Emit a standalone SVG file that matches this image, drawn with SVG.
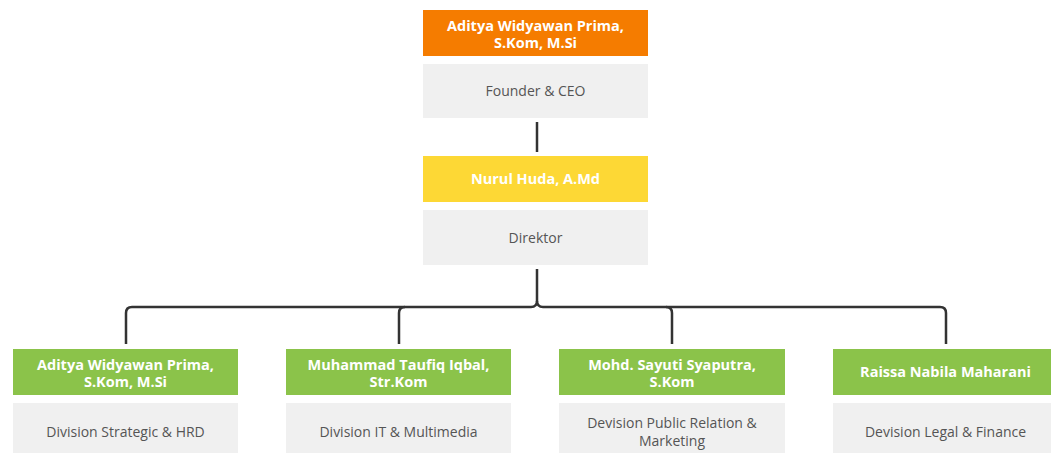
<svg xmlns="http://www.w3.org/2000/svg" width="1051" height="453" viewBox="0 0 1051 453">
<style>
.h{font-family:"Open Sans","Noto Sans","Liberation Sans",sans-serif;font-weight:700;font-size:14.5px;fill:#fff;text-anchor:middle}
.t{font-family:"Open Sans","Noto Sans","Liberation Sans",sans-serif;font-size:14px;fill:#555;text-anchor:middle}
.g{fill:#f0f0f0}
.c{fill:none;stroke:#333;stroke-width:2.5}
</style>
<rect width="1051" height="453" fill="#fff"/>
<g id="connectors">
<path class="c" d="M537,122 V152"/>
<path class="c" d="M537,269 V301 Q537,307 531,307 H132 Q126,307 126,313 V344"/>
<path class="c" d="M537,301 Q537,307 543,307 H940 Q946,307 946,313 V344"/>
<path class="c" d="M399,344 V313 Q399,307 405,307"/>
<path class="c" d="M672,344 V313 Q672,307 666,307"/>
</g>
<g id="ceo">
<rect x="423" y="10" width="225" height="46" fill="#f57c00"/>
<text class="h" x="535.5" y="31">Aditya Widyawan Prima,</text>
<text class="h" x="535.5" y="48">S.Kom, M.Si</text>
<rect class="g" x="423" y="64" width="225" height="54"/>
<text class="t" x="535.5" y="96">Founder &amp; CEO</text>
</g>
<g id="direktor">
<rect x="423" y="156" width="225" height="46" fill="#fdd835"/>
<text class="h" x="535.5" y="184">Nurul Huda, A.Md</text>
<rect class="g" x="423" y="210" width="225" height="55"/>
<text class="t" x="535.5" y="243">Direktor</text>
</g>
<g id="div1">
<rect x="13" y="349" width="225" height="46" fill="#8bc34a"/>
<text class="h" x="125.5" y="370">Aditya Widyawan Prima,</text>
<text class="h" x="125.5" y="387">S.Kom, M.Si</text>
<rect class="g" x="13" y="403" width="225" height="50"/>
<text class="t" x="125.5" y="437">Division Strategic &amp; HRD</text>
</g>
<g id="div2">
<rect x="286" y="349" width="225" height="46" fill="#8bc34a"/>
<text class="h" x="398.5" y="370">Muhammad Taufiq Iqbal,</text>
<text class="h" x="398.5" y="387">Str.Kom</text>
<rect class="g" x="286" y="403" width="225" height="50"/>
<text class="t" x="398.5" y="437">Division IT &amp; Multimedia</text>
</g>
<g id="div3">
<rect x="559" y="349" width="226" height="46" fill="#8bc34a"/>
<text class="h" x="672" y="370">Mohd. Sayuti Syaputra,</text>
<text class="h" x="672" y="387">S.Kom</text>
<rect class="g" x="559" y="403" width="226" height="50"/>
<text class="t" x="672" y="428">Devision Public Relation &amp;</text>
<text class="t" x="672" y="446">Marketing</text>
</g>
<g id="div4">
<rect x="833" y="349" width="225" height="46" fill="#8bc34a"/>
<text class="h" x="945.5" y="377">Raissa Nabila Maharani</text>
<rect class="g" x="833" y="403" width="225" height="50"/>
<text class="t" x="945.5" y="437">Devision Legal &amp; Finance</text>
</g>
</svg>
